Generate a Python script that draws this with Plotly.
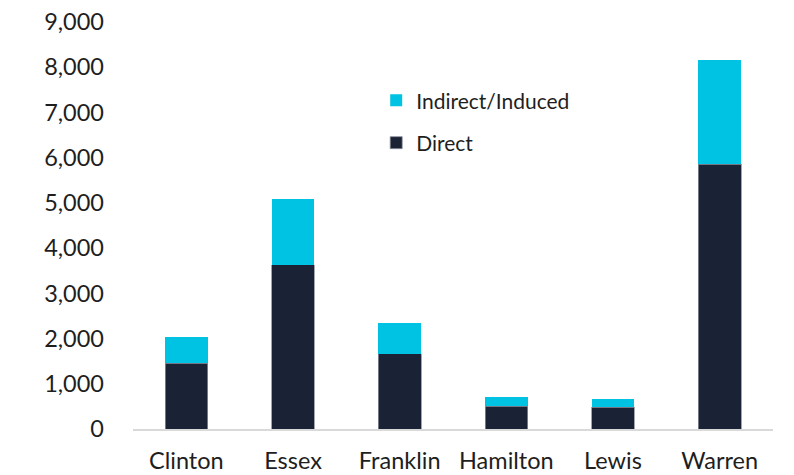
import plotly.graph_objects as go

counties = ["Clinton", "Essex", "Franklin", "Hamilton", "Lewis", "Warren"]
direct = [1457, 3634, 1664, 499, 477, 5850]
indirect_total = [2044, 5084, 2349, 713, 669, 8168]
indirect = [t - d for t, d in zip(indirect_total, direct)]

FONT = "Lato"
fig = go.Figure()
fig.add_trace(go.Bar(x=counties, y=direct, name="Direct", marker_color="#1a2236",
                     marker_line=dict(color="#8a8f9c", width=0.8), legendgroup="a",
                     legendrank=2))
fig.add_trace(go.Bar(x=counties, y=indirect, name="Indirect/Induced", marker_color="#00c3e3",
                     marker_line=dict(color="#00c3e3", width=0), legendgroup="b",
                     legendrank=1))

fig.update_layout(
    barmode="stack",
    bargap=0.6,
    width=794, height=475,
    margin=dict(l=133, r=21, t=22, b=46),
    plot_bgcolor="white", paper_bgcolor="white",
    font=dict(family=FONT, size=23.5, color="#1e1e1e"),
    legend=dict(x=0.38, y=0.857, xanchor="left", yanchor="top",
                traceorder="grouped", tracegroupgap=12,
                font=dict(size=21, family=FONT, color="#1e1e1e"),
                itemwidth=30, bgcolor="rgba(0,0,0,0)"),
    showlegend=True,
)
fig.update_yaxes(range=[0, 9000], dtick=1000, tickformat=",", showgrid=False,
                 zeroline=False, showline=False, ticks="", ticklabelstandoff=28,
                 automargin=False)
fig.update_xaxes(showline=True, linecolor="#d9d9d9", linewidth=2, ticks="",
                 ticklabelstandoff=10, automargin=False)

fig.write_html("out.html")
